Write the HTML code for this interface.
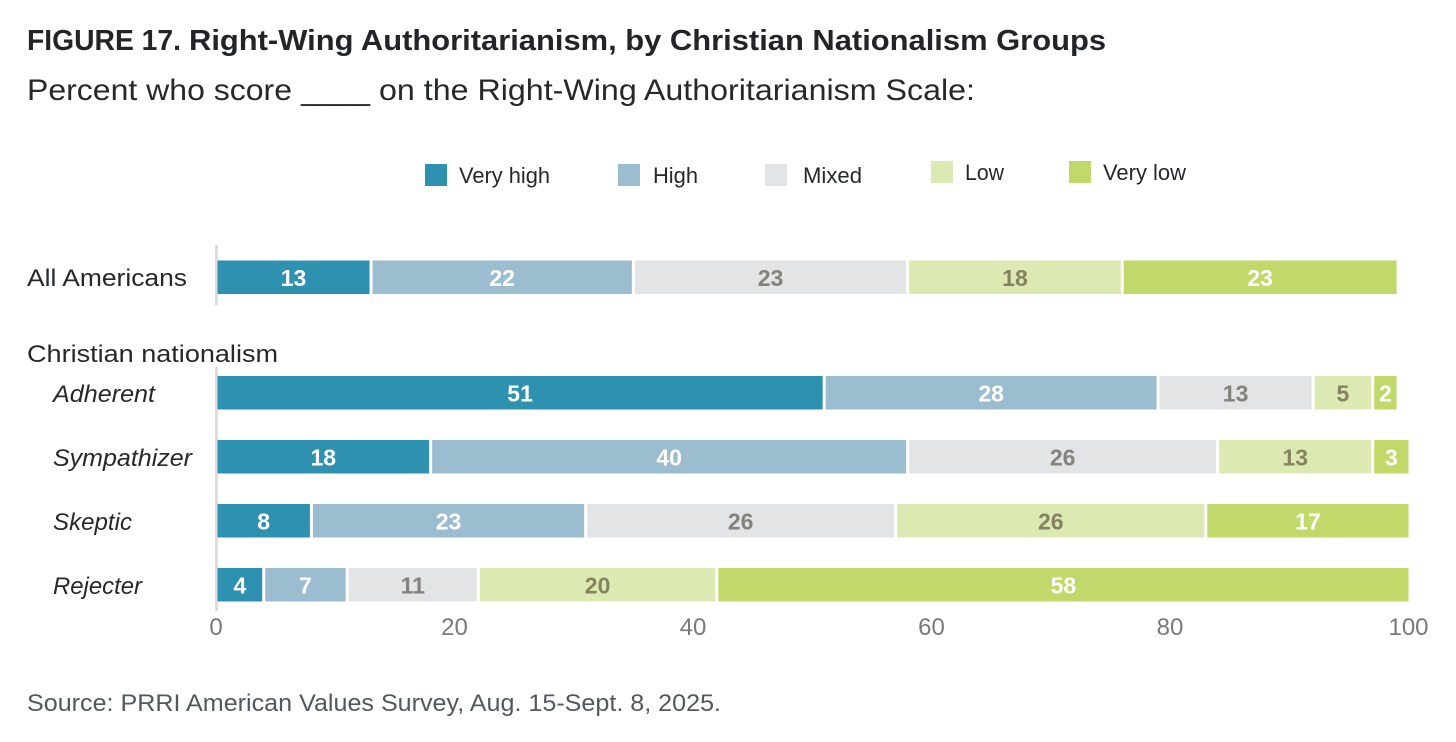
<!DOCTYPE html>
<html lang="en">
<head>
<meta charset="utf-8">
<title>Figure 17</title>
<style>
html,body{margin:0;padding:0;background:#fff;width:1456px;height:742px;overflow:hidden}
svg{display:block}
text{font-family:"Liberation Sans",sans-serif}
</style>
</head>
<body>
<svg id="chart" width="1456" height="742" viewBox="0 0 1456 742" xmlns="http://www.w3.org/2000/svg">
  <rect x="0" y="0" width="1456" height="742" fill="#fff"/>
  <text y="50" font-size="29" font-weight="700" fill="#222427"><tspan x="27" textLength="154" lengthAdjust="spacingAndGlyphs">FIGURE 17.</tspan> <tspan x="189" textLength="917" lengthAdjust="spacingAndGlyphs">Right-Wing Authoritarianism, by Christian Nationalism Groups</tspan></text>
  <text y="100" font-size="30" fill="#26282b"><tspan x="27" textLength="265" lengthAdjust="spacingAndGlyphs">Percent who score</tspan> <tspan x="301" textLength="69" lengthAdjust="spacingAndGlyphs">_____</tspan> <tspan x="379" textLength="596" lengthAdjust="spacingAndGlyphs">on the Right-Wing Authoritarianism Scale:</tspan></text>
  <text x="27" y="362" font-size="24" fill="#26282b" textLength="251" lengthAdjust="spacingAndGlyphs">Christian nationalism</text>
  <text x="27" y="711" font-size="24" fill="#55585b" textLength="694" lengthAdjust="spacingAndGlyphs">Source: PRRI American Values Survey, Aug. 15-Sept. 8, 2025.</text>
  <g id="legend"></g>
  <g id="axes"></g>
  <g id="bars"></g>
</svg>
<script>
const categories = ["All Americans", "Adherent", "Sympathizer", "Skeptic", "Rejecter"];
const seriesNames = ["Very high", "High", "Mixed", "Low", "Very low"];
const veryHigh = [13, 51, 18, 8, 4];
const high = [22, 28, 40, 23, 7];
const mixed = [23, 13, 26, 26, 11];
const low = [18, 5, 13, 26, 20];
const veryLow = [23, 2, 3, 17, 58];
const tickLabels = [0, 20, 40, 60, 80, 100];

const series = [veryHigh, high, mixed, low, veryLow];
const fills = ["#2f91b0", "#9cbdd0", "#e2e4e5", "#dde9b2", "#c0d96a"];
const valueColors = ["#fff", "#fff", "#85817b", "#85835f", "#fff"];
const labelFonts = [
  {x: 27, y: 286, w: 160, italic: false},
  {x: 53, y: 402, w: 102, italic: true},
  {x: 53, y: 466, w: 139, italic: true},
  {x: 53, y: 530, w: 79, italic: true},
  {x: 53, y: 594, w: 89, italic: true}
];
const legendLayout = [
  {sx: 425, tx: 459, y: 164, w: 91},
  {sx: 618, tx: 653, y: 164, w: 45},
  {sx: 765, tx: 803, y: 164, w: 59},
  {sx: 931, tx: 965, y: 161, w: 39},
  {sx: 1069, tx: 1103, y: 161, w: 83}
];

const NS = "http://www.w3.org/2000/svg";
const xScale = v => 216 + v * 11.925;
const yScale = i => i === 0 ? 260.5 : 376 + (i - 1) * 64;
const BAR_H = 33.5;

function mk(tag, attrs, parent, txt) {
  const el = document.createElementNS(NS, tag);
  for (const k in attrs) el.setAttribute(k, attrs[k]);
  if (txt !== undefined) el.textContent = txt;
  parent.appendChild(el);
  return el;
}
const slug = s => String(s).toLowerCase().replace(/\s+/g, "-");

const legend = document.getElementById("legend");
seriesNames.forEach((name, s) => {
  const l = legendLayout[s];
  const sw = mk("rect", {x: l.sx, y: l.y, width: 22, height: 22, fill: fills[s]}, legend);
  
  
  const t = mk("text", {x: l.tx, y: l.y + 19, "font-size": 22, fill: "#26282b", textLength: l.w, lengthAdjust: "spacingAndGlyphs"}, legend, name);
  
  
});

const axes = document.getElementById("axes");
const axisTop = mk("rect", {x: xScale(0) - 1, y: 245, width: 3, height: 60, fill: "#dcdddf"}, axes);


const axisBottom = mk("rect", {x: xScale(0) - 1, y: 367, width: 3, height: 244, fill: "#dcdddf"}, axes);


tickLabels.forEach(v => {
  const t = mk("text", {x: xScale(v), y: 635, "font-size": 24, fill: "#77797b", "text-anchor": "middle"}, axes, v);
  
  
});
categories.forEach((c, i) => {
  const f = labelFonts[i];
  const t = mk("text", {x: f.x, y: f.y, "font-size": 24, fill: "#26282b", textLength: f.w, lengthAdjust: "spacingAndGlyphs"}, axes, c);
  if (f.italic) t.setAttribute("font-style", "italic");
  
  
});

const bars = document.getElementById("bars");
categories.forEach((c, i) => {
  let cum = 0;
  series.forEach((vals, s) => {
    const v = vals[i];
    const x0 = xScale(cum), x1 = xScale(cum + v);
    const left = x0 + 1.5;
    const right = s === series.length - 1 ? x1 : x1 - 1.5;
    const r = mk("rect", {x: left, y: yScale(i), width: right - left, height: BAR_H, fill: fills[s]}, bars);
    
    
    const t = mk("text", {x: (left + right) / 2, y: yScale(i) + 25.5, "font-size": 23, "font-weight": 700, fill: valueColors[s], "text-anchor": "middle"}, bars, v);
    
    
    cum += v;
  });
});
</script>
</body>
</html>
